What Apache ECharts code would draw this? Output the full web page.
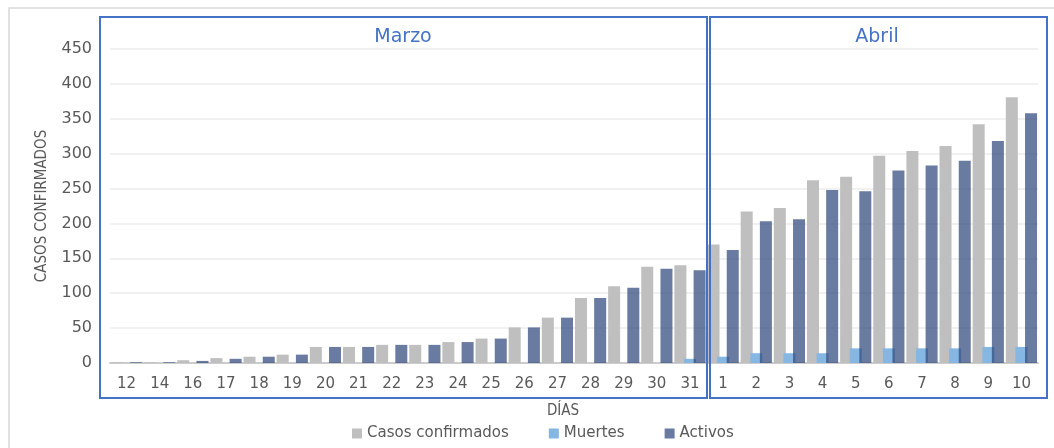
<!DOCTYPE html>
<html>
<head>
    <meta charset="utf-8" />
    <title>Casos confirmados</title>
    <script src="https://cdn.jsdelivr.net/npm/echarts@6/dist/echarts.min.js"></script>
    <style>
        html, body { margin: 0; padding: 0; background: #fff; }
        #main { width: 1054px; height: 448px; }
    </style>
</head>
<body>
    <div id="main"></div>
    <script type="text/javascript">
        // dias: marzo 12..31, abril 1..10
        var dias = ['12','14','16','17','18','19','20','21','22','23','24','25','26','27','28','29','30','31',
                    '1','2','3','4','5','6','7','8','9','10'];
        var confirmados = [1,1,4,7,9,12,23,23,26,26,30,35,51,65,93,110,138,140,
                           170,217,222,262,267,297,304,311,342,381];
        var muertes = [0,0,0,0,0,0,0,0,0,0,0,0,0,0,0,0,0,6,
                       9,14,14,14,21,21,21,21,23,23];
        var activos = [1,1,3,6,9,12,23,23,26,26,30,35,51,65,93,108,135,133,
                       162,203,206,248,246,276,283,290,318,358];
        var yTicks = [0,50,100,150,200,250,300,350,400,450];

        var fuente = 'DejaVu Sans';
        var gris = '#595959';
        var azul = '#4472c4';

        var myChart = echarts.init(document.getElementById('main'));
        myChart.setOption({
            animation: false,
            grid: {
                left: 110,
                right: 16,
                top: 49,
                bottom: 85
            },
            legend: {
                left: 347,
                top: 421,
                itemWidth: 10,
                itemHeight: 10,
                itemGap: 40,
                icon: 'rect',
                textStyle: { color: gris, fontSize: 15, fontFamily: fuente },
                data: ['Casos confirmados', 'Muertes', 'Activos']
            },
            xAxis: {
                type: 'category',
                data: dias,
                axisTick: { show: false },
                axisLine: { lineStyle: { color: '#cccccc', width: 2 } },
                axisLabel: { color: gris, fontSize: 15, fontFamily: fuente, margin: 14 }
            },
            yAxis: {
                type: 'value',
                min: yTicks[0],
                max: yTicks[yTicks.length - 1],
                interval: 50,
                name: 'CASOS CONFIRMADOS',
                nameLocation: 'middle',
                nameGap: 60,
                nameTextStyle: { color: gris, fontSize: 15, fontFamily: 'DejaVu Sans Condensed, DejaVu Sans' },
                axisLine: { show: false },
                axisTick: { show: false },
                splitLine: { lineStyle: { color: '#ececec', width: 1.5 } },
                axisLabel: { color: gris, fontSize: 16, fontFamily: fuente, margin: 18 }
            },
            series: [
                {
                    name: 'Casos confirmados',
                    type: 'bar',
                    data: confirmados,
                    barWidth: 12,
                    barGap: '-20%',
                    itemStyle: { color: '#bfbfbf' }
                },
                {
                    name: 'Muertes',
                    type: 'bar',
                    data: muertes,
                    barWidth: 12,
                    barGap: '-20%',
                    itemStyle: { color: '#86b6e2' }
                },
                {
                    name: 'Activos',
                    type: 'bar',
                    data: activos,
                    barWidth: 12,
                    barGap: '-20%',
                    itemStyle: { color: 'rgba(47,72,125,0.72)' }
                }
            ],
            graphic: [
                // borde del grafico
                {
                    type: 'rect', z: 100, silent: true,
                    shape: { x: 9, y: 8, width: 1100, height: 500 },
                    style: { fill: 'none', stroke: '#d9d9d9', lineWidth: 1.5 }
                },
                // recuadro Marzo
                {
                    type: 'rect', z: 100, silent: true,
                    shape: { x: 100, y: 17, width: 607, height: 381 },
                    style: { fill: 'none', stroke: azul, lineWidth: 2 }
                },
                {
                    type: 'text', z: 100, silent: true,
                    x: 403, y: 37,
                    style: { text: 'Marzo', fill: azul, fontSize: 19, fontFamily: fuente, align: 'center', verticalAlign: 'middle' }
                },
                // recuadro Abril
                {
                    type: 'rect', z: 100, silent: true,
                    shape: { x: 710, y: 17, width: 337, height: 381 },
                    style: { fill: 'none', stroke: azul, lineWidth: 2 }
                },
                {
                    type: 'text', z: 100, silent: true,
                    x: 877, y: 37,
                    style: { text: 'Abril', fill: azul, fontSize: 19, fontFamily: fuente, align: 'center', verticalAlign: 'middle' }
                },
                {
                    type: 'text', z: 100, silent: true,
                    x: 563, y: 411,
                    style: { text: 'DÍAS', fill: gris, fontSize: 15, fontFamily: 'DejaVu Sans Condensed, DejaVu Sans', align: 'center', verticalAlign: 'middle' }
                }
            ]
        });
    </script>
</body>
</html>
